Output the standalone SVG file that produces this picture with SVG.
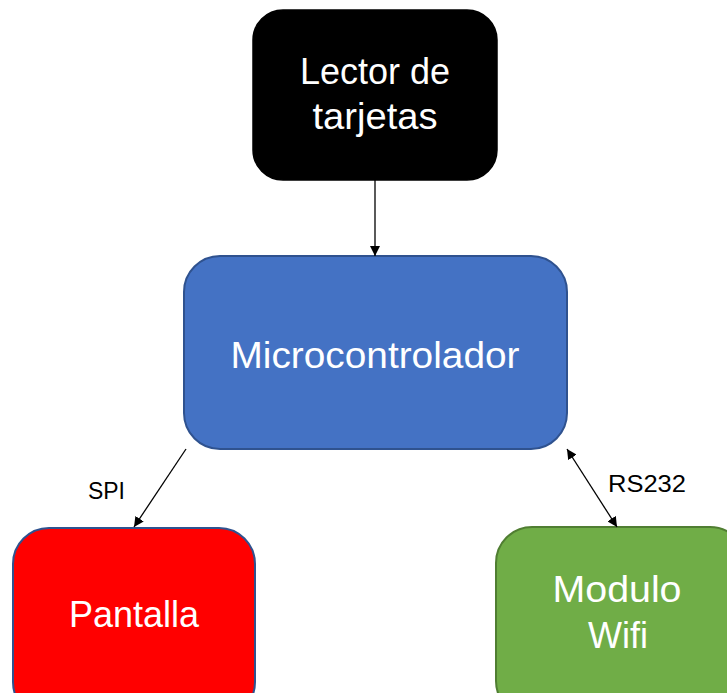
<svg xmlns="http://www.w3.org/2000/svg" width="727" height="693" viewBox="0 0 727 693">
<style>
.lbl{font-family:"Liberation Sans",Arial,sans-serif;fill:#ffffff;font-size:36px;text-anchor:middle}
.edge{font-family:"Liberation Sans",Arial,sans-serif;fill:#000000;font-size:24px}
.conn{stroke:#000000;stroke-width:1.3;fill:none}
</style>
<defs>
<marker id="ah" viewBox="0 0 10 10" refX="10" refY="5" markerWidth="10" markerHeight="10" markerUnits="userSpaceOnUse" orient="auto-start-reverse">
<path d="M0,0 L10,5 L0,10 z" fill="#000000"/>
</marker>
</defs>
<rect width="727" height="693" fill="#ffffff"/>
<g id="lector">
<rect x="253" y="10" width="244" height="170" rx="30" ry="30" fill="#000000" stroke="#000000" stroke-width="1.5"/>
<text class="lbl" x="375" y="84">Lector de</text>
<text class="lbl" x="375" y="129" textLength="125" lengthAdjust="spacingAndGlyphs">tarjetas</text>
</g>
<g id="micro">
<rect x="184" y="256" width="383" height="193" rx="36" ry="36" fill="#4472C4" stroke="#2F528F" stroke-width="2"/>
<text class="lbl" x="375" y="368" textLength="289" lengthAdjust="spacingAndGlyphs">Microcontrolador</text>
</g>
<g id="pantalla">
<rect x="13" y="528" width="242" height="190" rx="36" ry="36" fill="#FF0000" stroke="#2F528F" stroke-width="2"/>
<text class="lbl" x="134" y="627">Pantalla</text>
</g>
<g id="wifi">
<rect x="496" y="527" width="250" height="190" rx="36" ry="36" fill="#70AD47" stroke="#507E32" stroke-width="2"/>
<text class="lbl" x="617" y="602" textLength="129" lengthAdjust="spacingAndGlyphs">Modulo</text>
<text class="lbl" x="618" y="648">Wifi</text>
</g>
<g id="connectors">
<line class="conn" x1="375" y1="180" x2="375" y2="256" marker-end="url(#ah)"/>
<line class="conn" x1="186" y1="449" x2="134" y2="527" marker-end="url(#ah)"/>
<line class="conn" x1="567" y1="449" x2="617" y2="527" marker-start="url(#ah)" marker-end="url(#ah)"/>
<text class="edge" x="88" y="499" textLength="37" lengthAdjust="spacingAndGlyphs">SPI</text>
<text class="edge" x="608" y="492" textLength="78" lengthAdjust="spacingAndGlyphs">RS232</text>
</g>
</svg>
